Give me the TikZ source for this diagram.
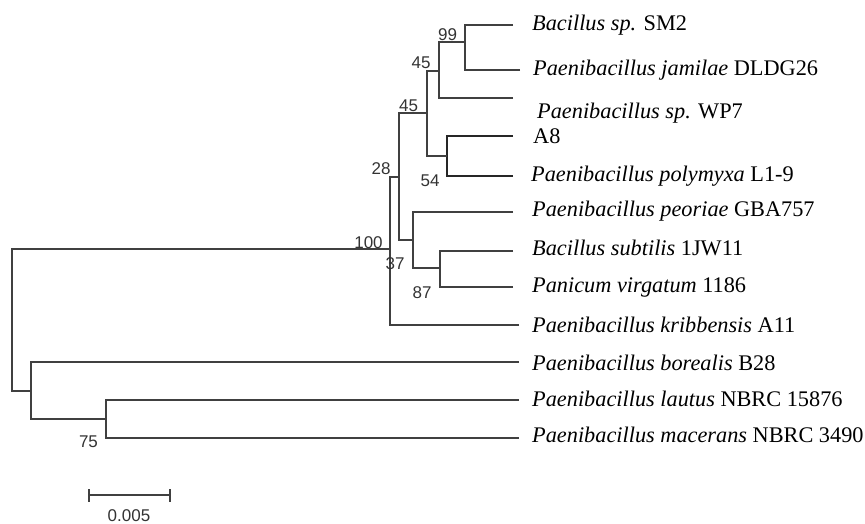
\documentclass[tikz,border=0pt]{standalone}
\usepackage{fontspec}
\setmainfont{Liberation Serif}
\newfontfamily\bootfont{Liberation Sans}

\begin{document}
\begin{tikzpicture}[x=1pt,y=-1pt,
  branch/.style={draw=black!75, line width=1.3pt},
  boldbranch/.style={draw=black!85, line width=2.6pt},
  taxon/.style={anchor=base west, inner sep=0pt, font=\fontsize{22.3}{22.3}\selectfont},
  boot/.style={inner sep=0pt, font=\bootfont\fontsize{17}{17}\selectfont, text=black!80}]
\useasboundingbox (0,0) rectangle (865,523);

% leaf tips
\coordinate (sm2) at (513,25);
\coordinate (jam) at (520,70);
\coordinate (wp7) at (513,98);
\coordinate (a8)  at (513,136);
\coordinate (pol) at (513,176);
\coordinate (peo) at (513,212);
\coordinate (sub) at (513,251);
\coordinate (pan) at (513,287);
\coordinate (kri) at (519,325);
\coordinate (bor) at (519,362);
\coordinate (lau) at (519,400);
\coordinate (mac) at (519,438);

% internal nodes (x = depth, y = stem height)
\coordinate (n99)  at (465,42);
\coordinate (n45a) at (439,71);
\coordinate (n54)  at (447,156);
\coordinate (n45b) at (427,113);
\coordinate (n87)  at (440,268);
\coordinate (n37)  at (413,240);
\coordinate (n28)  at (399,177);
\coordinate (n100) at (390,249);
\coordinate (n75)  at (106,419);
\coordinate (nout) at (31,391);
\coordinate (root) at (12,320);

% branches
\draw[branch] (sm2) -| (n99);
\draw[branch] (jam) -| (n99);
\draw[branch] (n99) -| (n45a);
\draw[branch] (wp7) -| (n45a);
\draw[boldbranch] (a8) -| (n54);
\draw[boldbranch] (pol) -| (n54);
\draw[branch] (n45a) -| (n45b);
\draw[branch] (n54) -| (n45b);
\draw[branch] (sub) -| (n87);
\draw[branch] (pan) -| (n87);
\draw[branch] (peo) -| (n37);
\draw[branch] (n87) -| (n37);
\draw[branch] (n45b) -| (n28);
\draw[branch] (n37) -| (n28);
\draw[branch] (n28) -| (n100);
\draw[branch] (kri) -| (n100);
\draw[branch] (lau) -| (n75);
\draw[branch] (mac) -| (n75);
\draw[branch] (bor) -| (nout);
\draw[branch] (n75) -| (nout);
\draw[branch] (n100) -| (root);
\draw[branch] (nout) -| (root);

% taxon labels
\node[taxon] (tsm2) at (532,30)  {\textit{Bacillus sp.} SM2};
\node[taxon] (tjam) at (533,75)  {\textit{Paenibacillus jamilae} DLDG26};
\node[taxon] (twp7) at (537,118) {\textit{Paenibacillus sp.} WP7};
\node[taxon] (ta8)  at (533,143) {A8};
\node[taxon] (tpol) at (531,181) {\textit{Paenibacillus polymyxa} L1-9};
\node[taxon] (tpeo) at (532,216) {\textit{Paenibacillus peoriae} GBA757};
\node[taxon] (tsub) at (532,255) {\textit{Bacillus subtilis} 1JW11};
\node[taxon] (tpan) at (532,292) {\textit{Panicum virgatum} 1186};
\node[taxon] (tkri) at (532,332) {\textit{Paenibacillus kribbensis} A11};
\node[taxon] (tbor) at (532,370) {\textit{Paenibacillus borealis} B28};
\node[taxon] (tlau) at (532,406) {\textit{Paenibacillus lautus} NBRC 15876};
\node[taxon] (tmac) at (532,442) {\textit{Paenibacillus macerans} NBRC 3490};

% bootstrap values
\node[boot] (b99)  at (447.5,34.5) {99};
\node[boot] (b45a) at (421,63)    {45};
\node[boot] (b45b) at (408.5,106) {45};
\node[boot] (b28)  at (381,169)   {28};
\node[boot] (b54)  at (430,180.5) {54};
\node[boot] (b100) at (368.5,243) {100};
\node[boot] (b37)  at (395,263.5) {37};
\node[boot] (b87)  at (422,293)   {87};
\node[boot] (b75)  at (88.5,442)  {75};

% scale bar
\coordinate (sbl) at (89,495);
\coordinate (sbr) at (170,495);
\draw[branch] (sbl) -- (sbr);
\draw[branch] ([yshift=-6.5pt]sbl) -- ([yshift=6.5pt]sbl);
\draw[branch] ([yshift=-6.5pt]sbr) -- ([yshift=6.5pt]sbr);
\node[boot, anchor=base] (sblabel) at (129,521) {0.005};
\end{tikzpicture}
\end{document}
